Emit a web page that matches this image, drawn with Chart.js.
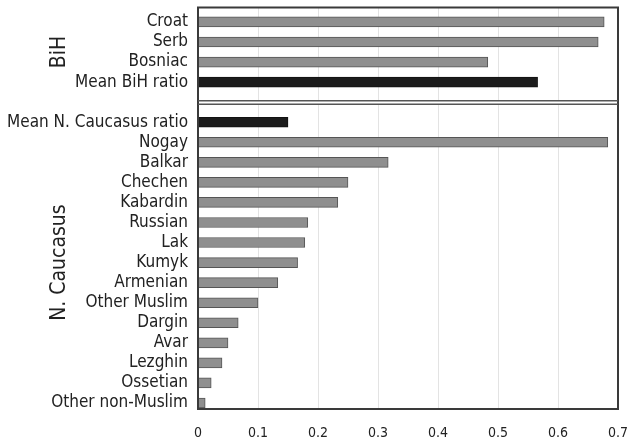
<!DOCTYPE html>
<html>
<head>
<meta charset="utf-8">
<script src="https://cdn.jsdelivr.net/npm/chart.js@4/dist/chart.umd.min.js"></script>
<style>
  html, body { margin: 0; padding: 0; background: #fff; }
  #c { display: block; }
</style>
</head>
<body>
<canvas id="c" width="627" height="442"></canvas>
<script>
// ---- data ----
const bihCategories = ['Croat', 'Serb', 'Bosniac', 'Mean BiH ratio'];
const bihValues = [0.677, 0.667, 0.483, 0.566];
const ncCategories = ['Mean N. Caucasus ratio', 'Nogay', 'Balkar', 'Chechen', 'Kabardin', 'Russian', 'Lak', 'Kumyk', 'Armenian', 'Other Muslim', 'Dargin', 'Avar', 'Lezghin', 'Ossetian', 'Other non-Muslim'];
const ncValues = [0.150, 0.683, 0.317, 0.250, 0.233, 0.183, 0.178, 0.166, 0.133, 0.100, 0.067, 0.050, 0.040, 0.022, 0.012];
const groupNames = ['BiH', 'N. Caucasus'];
const xTickValues = [0, 0.1, 0.2, 0.3, 0.4, 0.5, 0.6, 0.7];

// build slots: BiH rows, one empty slot, then N. Caucasus rows
const slotLabels = {};
const points = [];
const colors = [];
const borders = [];
bihCategories.forEach((c, i) => {
  slotLabels[i] = c; points.push({ x: bihValues[i], y: i });
});
const ncStart = bihCategories.length + 1;
ncCategories.forEach((c, i) => {
  slotLabels[ncStart + i] = c; points.push({ x: ncValues[i], y: ncStart + i });
});
points.forEach(p => {
  const isMean = slotLabels[p.y].startsWith('Mean');
  colors.push(isMean ? '#1c1c1c' : '#8f8f8f');
  borders.push(isMean ? '#111111' : '#555555');
});
const groupSlots = [
  [0, bihCategories.length - 1],
  [ncStart, ncStart + ncCategories.length - 1]
];
const dividerValue = bihCategories.length; // empty slot between panels

const FONT = "'DejaVu Sans Condensed', 'DejaVu Sans', sans-serif";

function noPad(s) { s.paddingLeft = 0; s.paddingRight = 0; s.paddingTop = 0; s.paddingBottom = 0; }

const framePlugin = {
  id: 'frames',
  afterDatasetsDraw(chart) {
    const { ctx, chartArea: a, scales } = chart;
    const y = scales.y;
    const mid = y.getPixelForValue(dividerValue);
    ctx.save();
    ctx.fillStyle = '#ffffff';
    ctx.fillRect(a.left, mid - 1, a.right - a.left, 3);
    ctx.strokeStyle = '#3a3a3a';
    ctx.lineWidth = 2;
    ctx.beginPath();
    ctx.moveTo(a.left, a.top); ctx.lineTo(a.left, a.bottom);
    ctx.moveTo(a.right, a.top); ctx.lineTo(a.right, a.bottom);
    ctx.stroke();
    ctx.beginPath();
    ctx.moveTo(a.left - 1, a.top); ctx.lineTo(a.right + 1, a.top);
    ctx.moveTo(a.left - 1, a.bottom); ctx.lineTo(a.right + 1, a.bottom);
    ctx.stroke();
    ctx.strokeStyle = '#555555';
    ctx.lineWidth = 1.5;
    ctx.beginPath();
    ctx.moveTo(a.left, mid - 1.5); ctx.lineTo(a.right, mid - 1.5);
    ctx.moveTo(a.left, mid + 2); ctx.lineTo(a.right, mid + 2);
    ctx.stroke();
    ctx.fillStyle = '#222222';
    ctx.font = '21px ' + FONT;
    ctx.textAlign = 'center';
    ctx.textBaseline = 'middle';
    groupSlots.forEach((g, i) => {
      const cy = (y.getPixelForValue(g[0]) + y.getPixelForValue(g[1])) / 2;
      ctx.save();
      ctx.translate(60, cy);
      ctx.rotate(-Math.PI / 2);
      ctx.fillText(groupNames[i], 0, 0);
      ctx.restore();
    });
    ctx.restore();
  }
};

new Chart(document.getElementById('c'), {
  type: 'bar',
  data: {
    datasets: [{
      data: points,
      backgroundColor: colors,
      borderColor: borders,
      borderWidth: 1,
      barThickness: 10
    }]
  },
  options: {
    indexAxis: 'y',
    responsive: false,
    animation: false,
    layout: { padding: { left: 0, right: 9, top: 7.5, bottom: 0 } },
    plugins: { legend: { display: false }, tooltip: { enabled: false } },
    scales: {
      x: {
        type: 'linear',
        min: 0, max: 0.7,
        afterBuildTicks(s) { s.ticks = xTickValues.map(v => ({ value: v })); },
        afterFit(s) { s.height = 33; noPad(s); },
        grid: { color: '#e3e3e3', lineWidth: 1, drawTicks: false },
        border: { display: false },
        ticks: {
          padding: 16,
          color: '#222',
          font: { family: FONT, size: 14 },
          callback: v => String(+Number(v).toFixed(1))
        }
      },
      y: {
        type: 'linear',
        reverse: true,
        offset: false,
        min: -0.72, max: 19.3,
        afterBuildTicks(s) { s.ticks = Object.keys(slotLabels).map(k => ({ value: +k })); },
        afterFit(s) { s.width = 198; noPad(s); },
        grid: { display: false, drawTicks: false, offset: false },
        border: { display: false },
        ticks: {
          padding: 10,
          color: '#222',
          autoSkip: false,
          font: { family: FONT, size: 17 },
          callback: v => slotLabels[v] || ''
        }
      }
    }
  },
  plugins: [framePlugin]
});
</script>
</body>
</html>
